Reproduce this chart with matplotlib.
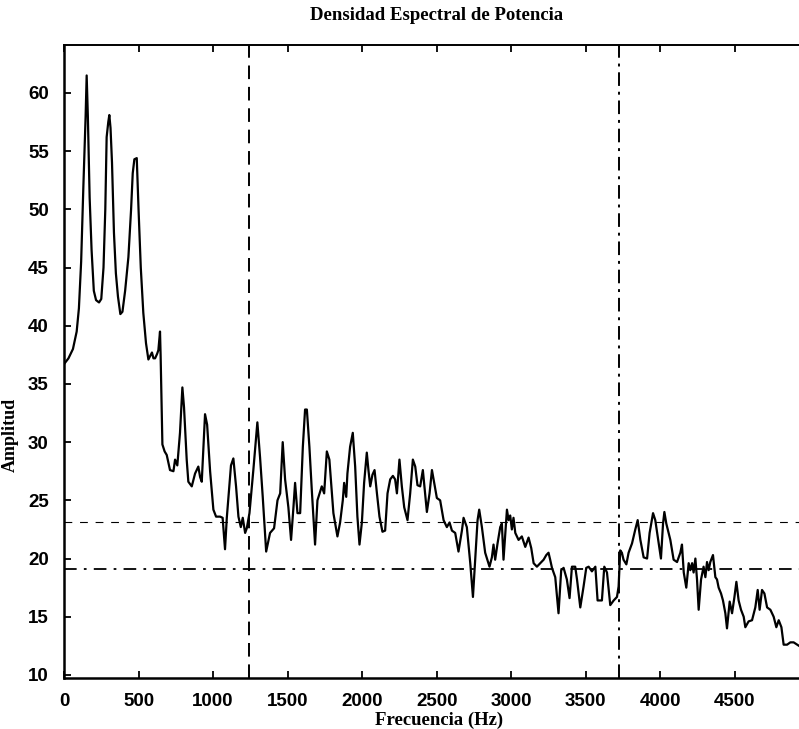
import matplotlib
matplotlib.use("Agg")
import matplotlib.pyplot as plt

freq = [0, 30, 60, 85, 100, 115, 130, 145, 152, 160, 172, 185, 200, 215, 235, 250,
        265, 277, 286, 297, 304, 312, 322, 335, 348, 362, 378, 392, 410, 432, 450,
        461, 472, 488, 500, 515, 532, 550, 566, 578, 590, 600, 611, 625, 633, 644,
        648, 660, 675, 689, 711, 734, 745, 760, 778, 794, 805, 823, 834, 857, 879,
        901, 913, 924, 935, 946, 960, 980, 1002, 1020, 1047, 1064, 1073, 1080, 1092,
        1103, 1120, 1136, 1154, 1170, 1186, 1199, 1215, 1226, 1244, 1270, 1297, 1315,
        1333, 1356, 1382, 1409, 1432, 1450, 1467, 1483, 1505, 1523, 1539, 1550, 1566,
        1584, 1602, 1617, 1629, 1646, 1662, 1684, 1700, 1729, 1745, 1763, 1780, 1807,
        1834, 1852, 1870, 1879, 1893, 1901, 1919, 1937, 1953, 1968, 1982, 1998, 2013,
        2031, 2042, 2054, 2069, 2083, 2099, 2116, 2136, 2154, 2170, 2188, 2206, 2221,
        2233, 2250, 2266, 2282, 2304, 2322, 2340, 2356, 2371, 2389, 2407, 2422, 2434,
        2452, 2468, 2483, 2501, 2523, 2546, 2568, 2586, 2602, 2624, 2646, 2669, 2680,
        2702, 2725, 2743, 2758, 2774, 2785, 2803, 2825, 2854, 2870, 2881, 2892, 2908,
        2926, 2937, 2948, 2962, 2971, 2982, 2993, 3004, 3015, 3027, 3049, 3071, 3094,
        3116, 3134, 3150, 3172, 3194, 3217, 3235, 3250, 3261, 3273, 3295, 3317, 3335,
        3351, 3373, 3391, 3407, 3429, 3441, 3463, 3485, 3503, 3519, 3541, 3564, 3579,
        3608, 3624, 3642, 3664, 3687, 3709, 3720, 3731, 3742, 3753, 3772, 3787, 3810,
        3832, 3848, 3866, 3888, 3911, 3928, 3951, 3966, 3982, 4004, 4018, 4027, 4040,
        4067, 4089, 4112, 4134, 4145, 4157, 4174, 4190, 4201, 4213, 4223, 4235, 4246,
        4257, 4273, 4290, 4302, 4313, 4324, 4335, 4353, 4369, 4380, 4391, 4407, 4420,
        4436, 4447, 4465, 4481, 4497, 4510, 4525, 4541, 4559, 4570, 4592, 4615, 4637,
        4653, 4666, 4682, 4698, 4716, 4738, 4760, 4778, 4794, 4812, 4827, 4850, 4872,
        4894, 4930]
amp = [36.7, 37.2, 38.0, 39.5, 41.5, 45.5, 52.0, 58.0, 61.5, 58.0, 51.0, 46.5, 43.0,
       42.2, 42.0, 42.3, 45.0, 50.0, 56.2, 57.5, 58.1, 57.0, 54.0, 48.0, 44.5, 42.5,
       41.0, 41.2, 43.0, 45.9, 50.0, 53.1, 54.3, 54.4, 50.0, 45.0, 41.1, 38.5, 37.1,
       37.4, 37.7, 37.2, 37.2, 37.6, 37.9, 39.5, 37.5, 29.8, 29.2, 28.9, 27.6, 27.5,
       28.5, 28.0, 30.8, 34.7, 33.0, 28.5, 26.6, 26.2, 27.3, 27.9, 27.0, 26.6, 29.5,
       32.4, 31.5, 27.5, 24.2, 23.6, 23.6, 23.5, 22.0, 20.8, 23.5, 25.3, 28.0, 28.6,
       26.2, 23.6, 22.7, 23.5, 22.2, 22.6, 23.9, 27.6, 31.7, 28.7, 25.3, 20.6, 22.2,
       22.6, 25.0, 25.6, 30.0, 26.8, 24.4, 21.6, 24.4, 26.5, 23.9, 23.9, 29.6, 32.8,
       32.8, 29.6, 25.9, 21.2, 25.0, 26.2, 25.6, 29.2, 28.5, 23.9, 21.9, 23.1, 25.0,
       26.5, 25.3, 27.3, 29.6, 30.8, 27.9, 23.6, 21.2, 23.1, 26.5, 29.1, 27.6, 26.2,
       27.2, 27.6, 25.6, 23.6, 22.3, 22.4, 25.6, 26.8, 27.1, 26.8, 25.6, 28.5, 26.2,
       24.4, 23.3, 25.6, 28.5, 27.9, 26.3, 26.2, 27.6, 25.6, 24.0, 25.6, 27.6, 26.5,
       25.2, 25.0, 23.3, 22.7, 23.1, 22.4, 22.2, 20.6, 22.4, 23.5, 22.7, 19.6, 16.7,
       19.9, 23.3, 24.2, 22.7, 20.5, 19.3, 20.1, 21.2, 19.9, 21.3, 22.7, 23.0, 19.9,
       22.5, 24.2, 23.3, 23.7, 22.5, 23.5, 22.2, 21.6, 21.9, 21.0, 21.8, 20.9, 19.6,
       19.3, 19.6, 19.9, 20.3, 20.5, 19.9, 19.2, 18.4, 15.3, 19.0, 19.2, 18.2, 16.6,
       19.3, 19.3, 18.2, 15.8, 17.6, 19.2, 19.3, 18.9, 19.3, 16.4, 16.4, 19.3, 18.8,
       16.0, 16.4, 16.7, 17.6, 20.7, 20.5, 19.9, 19.5, 20.5, 21.3, 22.5, 23.3, 21.6,
       20.1, 20.0, 22.2, 23.9, 23.3, 21.9, 20.0, 23.0, 24.0, 23.0, 21.6, 19.9, 19.7,
       20.5, 21.2, 18.8, 17.5, 19.6, 19.0, 19.6, 18.8, 20.0, 18.2, 15.6, 18.2, 19.3,
       18.4, 19.7, 19.0, 19.7, 20.3, 18.4, 18.2, 17.5, 17.0, 16.4, 15.3, 14.0, 16.3,
       15.3, 16.7, 18.0, 16.4, 15.6, 15.0, 14.1, 14.6, 14.7, 15.8, 17.3, 15.6, 17.3,
       17.0, 15.8, 15.6, 15.0, 14.1, 14.7, 14.1, 12.6, 12.6, 12.8, 12.8, 12.5]

# lineas de referencia
corte_bajo = 1240
corte_alto = 3725
nivel_medio = 19.1
nivel_alto = 23.1

xticks = [0, 500, 1000, 1500, 2000, 2500, 3000, 3500, 4000, 4500]
yticks = [10, 15, 20, 25, 30, 35, 40, 45, 50, 55, 60]

fig = plt.figure(figsize=(7.99, 7.29), dpi=100)
ax = fig.add_axes([0.0801, 0.070, 0.9199, 0.868])

ax.plot(freq, amp, color='black', linewidth=1.6)
ax.axvline(corte_bajo, color='black', linewidth=1.4, linestyle=(0, (7, 4)))
ax.axvline(corte_alto, color='black', linewidth=1.4, linestyle=(0, (7, 3, 1.5, 3)))
ax.axhline(nivel_medio, color='black', linewidth=1.3, linestyle=(0, (7, 4, 1.5, 4)))
ax.axhline(nivel_alto, color='black', linewidth=0.8, linestyle=(0, (7, 7)))

ax.set_xlim(0, 4930)
ax.set_ylim(9.74, 64.1)
ax.set_xticks(xticks)
ax.set_yticks(yticks)

ax.spines['right'].set_visible(False)
for s in ['left', 'bottom']:
    ax.spines[s].set_linewidth(1.8)
ax.spines['top'].set_linewidth(1.4)

ax.tick_params(direction='in', length=5, width=1.3, top=True, right=False, pad=11)
for lbl in ax.get_xticklabels() + ax.get_yticklabels():
    lbl.set_fontfamily('Liberation Sans')
    lbl.set_fontweight('bold')
    lbl.set_fontsize(13.5)

ax.set_xlabel('Frecuencia (Hz)', fontfamily='Liberation Serif', fontweight='bold',
              fontsize=13.5)
ax.xaxis.set_label_coords(0.51, -0.054)
ax.set_ylabel('Amplitud', fontfamily='Liberation Serif', fontweight='bold', fontsize=13)
ax.yaxis.set_label_coords(-0.062, 0.384)

fig.text(0.547, 1 - 16 / 729, 'Densidad Espectral de Potencia', ha='center', va='center',
         fontfamily='Liberation Serif', fontweight='bold', fontsize=13.5)

plt.savefig('out.png', dpi=100)
